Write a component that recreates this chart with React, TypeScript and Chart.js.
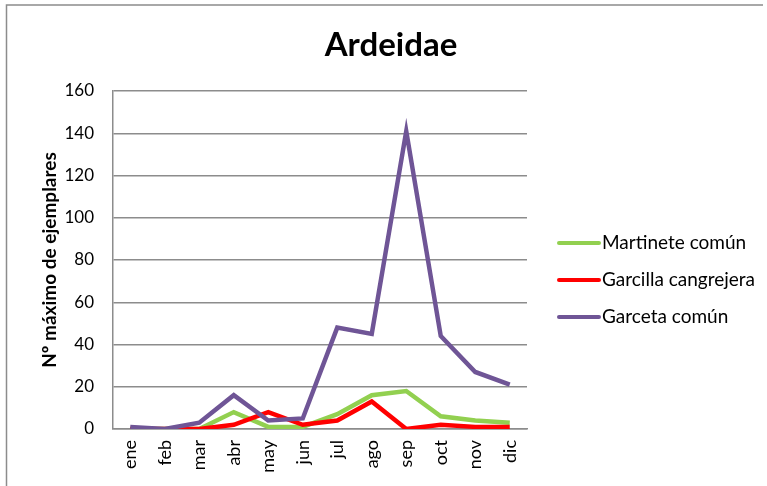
import React, { useEffect, useRef } from "react";
import { Chart, registerables } from "chart.js";

Chart.register(...registerables);

const months = ["ene", "feb", "mar", "abr", "may", "jun", "jul", "ago", "sep", "oct", "nov", "dic"];
const martinete = [0, 0, 0, 8, 1, 1, 7, 16, 18, 6, 4, 3];
const garcilla = [0, 0, 0, 2, 8, 2, 4, 13, 0, 2, 1, 1];
const garceta = [1, 0, 3, 16, 4, 5, 48, 45, 141, 44, 27, 21];
const seriesNames = ["Martinete común", "Garcilla cangrejera", "Garceta común"];
const seriesColors = ["#92D050", "#FF0000", "#6F5596"];
const yTicks = [0, 20, 40, 60, 80, 100, 120, 140, 160];
const titleText = "Ardeidae";
const yTitleText = "Nº máximo de ejemplares";

const FONT = "Lato, 'Open Sans', sans-serif";

const decor = {
  id: "decor",
  afterDraw(chart: any) {
    const ctx = chart.ctx;
    const area = chart.chartArea;
    ctx.save();
    // outer border (top and left)
    ctx.strokeStyle = "#8c8c8c";
    ctx.lineWidth = 1.5;
    ctx.beginPath();
    ctx.moveTo(763, 5);
    ctx.lineTo(6.5, 5);
    ctx.lineTo(6.5, 486);
    ctx.stroke();
    // title
    ctx.fillStyle = "#000";
    ctx.font = `bold 33px ${FONT}`;
    ctx.textAlign = "center";
    ctx.textBaseline = "middle";
    ctx.fillText(titleText, 391, 45);
    // y title
    ctx.save();
    ctx.translate(50, (area.top + area.bottom) / 2);
    ctx.rotate(-Math.PI / 2);
    ctx.font = `bold 19px ${FONT}`;
    ctx.fillText(yTitleText, 0, 0);
    ctx.restore();
    // legend
    const rows = [243, 280, 317];
    chart.data.datasets.forEach((ds: any, i: number) => {
      const y = rows[i];
      ctx.strokeStyle = ds.borderColor;
      ctx.lineWidth = 4;
      ctx.lineCap = "round";
      ctx.beginPath();
      ctx.moveTo(559, y);
      ctx.lineTo(599, y);
      ctx.stroke();
      ctx.fillStyle = "#000";
      ctx.font = `19px ${FONT}`;
      ctx.textAlign = "left";
      ctx.textBaseline = "middle";
      ctx.fillText(ds.label, 602, y);
    });
    ctx.restore();
  },
};

export default function App() {
  const ref = useRef<HTMLCanvasElement | null>(null);
  useEffect(() => {
    if (!ref.current) return;
    const seriesData = [martinete, garcilla, garceta];
    const chart = new Chart(ref.current, {
      type: "line",
      data: {
        labels: months,
        datasets: seriesData.map((d, i) => ({
          label: seriesNames[i],
          data: d,
          borderColor: seriesColors[i],
          backgroundColor: seriesColors[i],
          borderWidth: 4.5,
          pointRadius: 0,
          tension: 0,
          fill: false,
          order: 2 - i,
        })),
      },
      options: {
        animation: false,
        responsive: false,
        maintainAspectRatio: false,
        layout: { padding: { top: 91, right: 240, left: 0, bottom: 0 } },
        plugins: { legend: { display: false }, title: { display: false }, tooltip: { enabled: false } },
        scales: {
          x: {
            offset: true,
            grid: { display: false, drawTicks: false },
            border: { display: true, color: "#8c8c8c", width: 1.5 },
            ticks: {
              color: "#000",
              font: { family: FONT, size: 18 },
              minRotation: 90,
              maxRotation: 90,
              padding: 11,
              autoSkip: false,
            },
            afterFit: (s: any) => { s.height = 486 - 429; },
          },
          y: {
            min: 0,
            max: 160,
            afterBuildTicks: (s: any) => { s.ticks = yTicks.map((v) => ({ value: v })); },
            grid: { color: "#8c8c8c", lineWidth: 1.5, drawTicks: false },
            border: { display: true, color: "#8c8c8c", width: 1.5 },
            ticks: { color: "#000", font: { family: FONT, size: 17 }, padding: 19 },
            afterFit: (s: any) => { s.width = 113; },
          },
        },
      },
      plugins: [decor],
    });
    return () => chart.destroy();
  }, []);
  return (
    <div style={{ position: "absolute", left: 0, top: 0, width: 767, height: 486, background: "#fff" }}>
      <canvas ref={ref} width={767} height={486} style={{ width: 767, height: 486, display: "block" }} />
    </div>
  );
}
